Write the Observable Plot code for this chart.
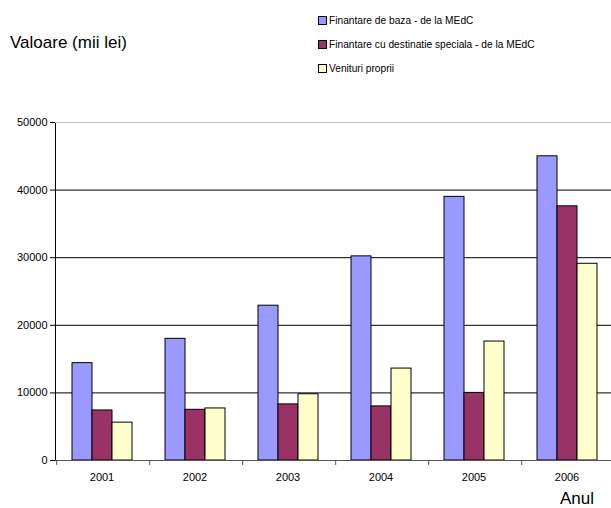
<!DOCTYPE html>
<html><head><meta charset="utf-8">
<script src="https://cdn.jsdelivr.net/npm/d3@7"></script>
<script src="https://cdn.jsdelivr.net/npm/@observablehq/plot@0.6"></script>
<style>
body{margin:0;background:#fff;font-family:"Liberation Sans",Arial,sans-serif;}
#wrap{position:relative;width:611px;height:508px;overflow:hidden;background:#fff}
#title{position:absolute;left:10px;top:33px;font-size:17px;color:#000;white-space:nowrap}
#anul{position:absolute;left:560px;top:489px;font-size:17px;color:#000;white-space:nowrap}
#legend{position:absolute;left:318px;top:8px;font-size:10.2px;color:#000}
.row{height:24px;display:flex;align-items:center;white-space:nowrap}
.sw{width:7px;height:7px;border:1px solid #000;margin-right:2px;display:inline-block}
</style></head><body><div id="wrap"><div id="title">Valoare (mii lei)</div><div id="anul">Anul</div><div id="legend"></div></div>
<script>
const years = [2001, 2002, 2003, 2004, 2005, 2006];
const seriesNames = ["Finantare de baza - de la MEdC", "Finantare cu destinatie speciala - de la MEdC", "Venituri proprii"];
const baza = [14400, 18000, 22900, 30200, 39000, 45000];
const speciala = [7400, 7500, 8300, 8000, 10000, 37600];
const proprii = [5600, 7700, 9800, 13600, 17600, 29100];
const yTicks = [0, 10000, 20000, 30000, 40000, 50000];
const colors = ["#9999ff", "#993366", "#ffffcc"];

const seriesValues = [baza, speciala, proprii];
const data = years.flatMap((yr, i) => seriesNames.map((s, k) => ({year: yr, series: s, value: seriesValues[k][i]})));

const W = 611, H = 508, ML = 55, MR = -2, MT = 122, MB = 48;
const facetW = (W - ML - MR) / years.length;
const step = facetW / 4.5;

const chart = Plot.plot({
  width: W, height: H, marginLeft: ML, marginRight: MR, marginTop: MT, marginBottom: MB,
  style: {fontFamily: "Liberation Sans, Arial, sans-serif", fontSize: "11px", background: "white", color: "#000", overflow: "visible"},
  fx: {domain: years, padding: 0, label: null, axis: "bottom", tickSize: 0, tickPadding: 13, tickFormat: d => String(d)},
  x: {domain: seriesNames, paddingInner: 0, paddingOuter: 0.75, axis: null},
  y: {domain: [0, 50000], ticks: yTicks, tickFormat: d => String(d), tickSize: 5, tickPadding: 3, label: null, line: true},
  color: {domain: seriesNames, range: colors},
  marks: [
    Plot.ruleY([50000], {stroke: "#c0c0c0"}),
    Plot.ruleY(yTicks.slice(1, -1), {stroke: "#000"}),
    Plot.barY(data, {fx: "year", x: "series", y: "value", fill: "series", stroke: "#000", strokeWidth: 1}),
    Plot.ruleY([0], {stroke: "#555"}),
    Plot.ruleX(years, {fx: d => d, x: () => seriesNames[0], dx: -1.25 * step, y1: 0, y2: 0, insetBottom: -5, stroke: "#555"})
  ]
});
document.getElementById("wrap").prepend(chart);
chart.style.position = "absolute"; chart.style.left = "0"; chart.style.top = "0";

const legend = document.getElementById("legend");
seriesNames.forEach((s, k) => {
  const row = document.createElement("div");
  row.className = "row";
  row.innerHTML = `<span class="sw" style="background:${colors[k]}"></span><span>${s}</span>`;
  legend.appendChild(row);
});
</script>
</body></html>
